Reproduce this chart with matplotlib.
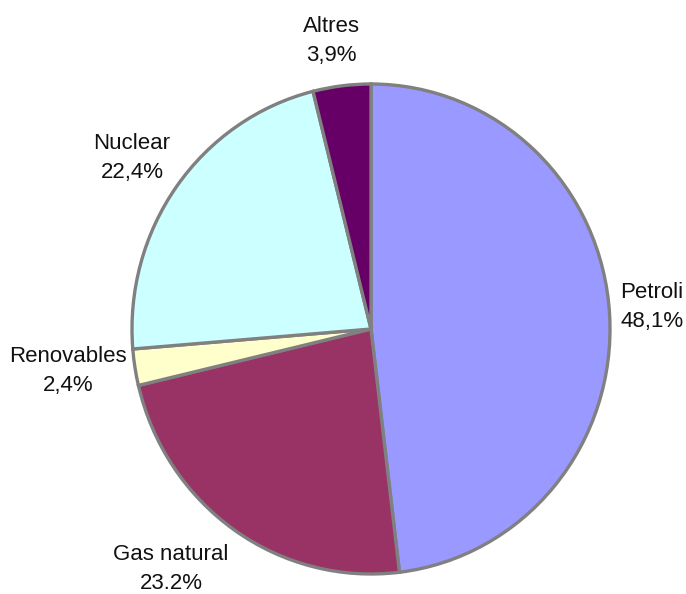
import matplotlib
matplotlib.use("Agg")
import matplotlib.pyplot as plt

labels = ["Petroli", "Gas natural", "Renovables", "Nuclear", "Altres"]
values = [48.1, 23.2, 2.4, 22.4, 3.9]
pct_text = ["48,1%", "23.2%", "2,4%", "22,4%", "3,9%"]
colors = ["#9999FF", "#993366", "#FFFFCC", "#CCFFFF", "#660066"]

# label block centres, in pixels from the top-left corner
label_px = [(652, 307), (171, 569), (68, 371), (132, 158), (331, 41)]

plt.rcParams['font.family'] = ['Liberation Sans', 'DejaVu Sans']

W, H = 686, 594
cx, cy = 371, 329      # pie centre in pixels
rx, ry = 239, 245      # slightly taller than wide, like the original

fig = plt.figure(figsize=(W / 100, H / 100), dpi=100)
ax = fig.add_axes([0, 0, 1, 1])

wedges, _ = ax.pie(values, colors=colors, startangle=90, counterclock=False,
                   radius=1, center=(0, 0), frame=True,
                   wedgeprops=dict(edgecolor="#808080", linewidth=2.4))
# pie forces an equal aspect; undo it so the pie can be a bit taller
ax.set_aspect('auto')
ax.set_xlim(-cx / rx, (W - cx) / rx)
ax.set_ylim(-(H - cy) / ry, cy / ry)
ax.axis('off')

for name, pct, (px, py) in zip(labels, pct_text, label_px):
    fig.text(px / W, 1 - py / H, f"{name}\n{pct}",
             ha="center", va="center", fontsize=16, linespacing=1.55,
             color="#111111")

fig.savefig("out.png", dpi=100)
